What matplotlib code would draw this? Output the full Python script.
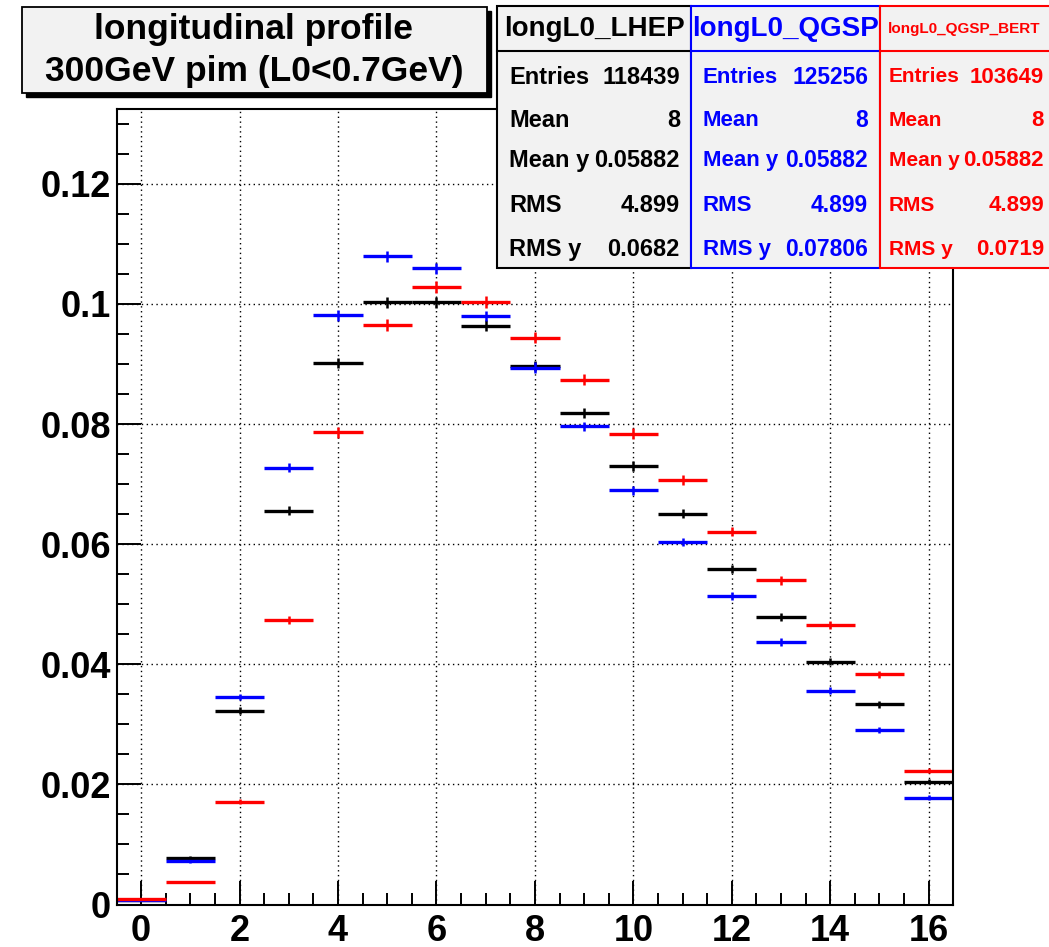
import numpy as np
import matplotlib
matplotlib.use("Agg")
import matplotlib.pyplot as plt
from matplotlib.patches import Rectangle
from matplotlib.ticker import MultipleLocator, FuncFormatter
from matplotlib.lines import Line2D

plt.rcParams['font.family'] = ['Liberation Sans', 'DejaVu Sans']
plt.rcParams['font.weight'] = 'bold'

# longitudinal profile, bins 0..16 (normalised to 1)
layers = list(range(17))
lhep = [0.0008, 0.0078, 0.0323, 0.0656, 0.0902, 0.1003, 0.1003, 0.0964, 0.0897,
        0.0818, 0.0730, 0.0651, 0.0559, 0.0479, 0.0404, 0.0333, 0.0204]
qgsp = [0.0007, 0.0072, 0.0345, 0.0727, 0.0981, 0.1079, 0.1059, 0.0980, 0.0894,
        0.0796, 0.0690, 0.0604, 0.0514, 0.0437, 0.0356, 0.0291, 0.0178]
bert = [0.0009, 0.0037, 0.0171, 0.0473, 0.0786, 0.0965, 0.1028, 0.1003, 0.0944,
        0.0874, 0.0784, 0.0707, 0.0621, 0.0540, 0.0465, 0.0383, 0.0223]

names = ['longL0_LHEP', 'longL0_QGSP', 'longL0_QGSP_BERT']
colors = ['black', '#0000ff', '#ff0000']
entries = [118439, 125256, 103649]
means = ['8', '8', '8']
mean_y = ['0.05882', '0.05882', '0.05882']
rms = ['4.899', '4.899', '4.899']
rms_y = ['0.0682', '0.07806', '0.0719']

W, H = 1049, 947
fig = plt.figure(figsize=(W / 100, H / 100), dpi=100)

def fx(px):
    return px / W

def fy(py):
    return 1 - py / H

ax = fig.add_axes([fx(116.5), fy(904.5), fx(953.3) - fx(116.5), fy(108.7) - fy(904.5)])

for vals, c, n in zip([lhep, qgsp, bert], colors, entries):
    vals = np.array(vals)
    err = np.sqrt(vals / n)  # counting error of a normalised histogram
    ax.errorbar(layers, vals, xerr=0.5, fmt='none', ecolor=c, elinewidth=2.4, capsize=0)
    ax.errorbar(layers, vals, yerr=err, fmt='none', ecolor=c, elinewidth=1.8, capsize=0)

ax.set_xlim(-0.5, 16.5)
ax.set_ylim(0, 0.1325)
ax.xaxis.set_major_locator(MultipleLocator(2))
ax.xaxis.set_minor_locator(MultipleLocator(0.5))
ax.yaxis.set_major_locator(MultipleLocator(0.02))
ax.yaxis.set_minor_locator(MultipleLocator(0.005))
ax.yaxis.set_major_formatter(FuncFormatter(lambda v, p: '%g' % round(v, 4)))
ax.tick_params(which='both', direction='in', top=False, right=False, width=1.4, labelsize=26)
ax.tick_params(which='major', length=17)
ax.tick_params(which='minor', length=8.5)
ax.tick_params(axis='y', pad=4)
ax.tick_params(axis='x', pad=7)
for lab in ax.get_xticklabels() + ax.get_yticklabels():
    lab.set_fontweight('bold')
ax.grid(True, which='major', color='black', ls=(0, (1, 2.5)), lw=1.0)
ax.set_axisbelow(True)
for s in ax.spines.values():
    s.set_linewidth(1.5)

# title box with shadow
fig.patches.append(Rectangle((fx(26), fy(97)), fx(487) - fx(22), fy(7) - fy(93),
                             transform=fig.transFigure, facecolor='black', edgecolor='black', zorder=5))
fig.patches.append(Rectangle((fx(22), fy(93)), fx(487) - fx(22), fy(7) - fy(93),
                             transform=fig.transFigure, facecolor='#f2f2f2', edgecolor='black',
                             lw=1.3, zorder=6))
fig.text(fx(254), fy(30), 'longitudinal profile', ha='center', va='center', fontsize=25.5,
         fontweight='bold', zorder=7)
fig.text(fx(254), fy(72), '300GeV pim (L0<0.7GeV)', ha='center', va='center', fontsize=25.5,
         fontweight='bold', zorder=7)

# statistics boxes
box_left = [497, 691, 880]
box_right = [691, 880, 1060]
label_x = [509, 703, 889]
value_x = [680, 868, 1044]
head_size = [20, 20, 11]
label_size = [17, 16, 15]
value_size = [17, 16.5, 16]
row_y = [75, 118, 158, 203, 247]
row_names = ['Entries', 'Mean', 'Mean y', 'RMS', 'RMS y']
for i in range(3):
    c = colors[i]
    fig.patches.append(Rectangle((fx(box_left[i]), fy(268)), fx(box_right[i]) - fx(box_left[i]),
                                 fy(6) - fy(268), transform=fig.transFigure, facecolor='#f2f2f2',
                                 edgecolor=c, lw=1.5, zorder=5))
    fig.lines.append(Line2D([fx(box_left[i]), fx(box_right[i])], [fy(51), fy(51)],
                            transform=fig.transFigure, color=c, lw=1.5, zorder=6))
    fig.text(fx((box_left[i] + min(box_right[i], 1049)) / 2), fy(29), names[i], ha='center',
             va='center', fontsize=head_size[i], fontweight='bold', color=c, zorder=7)
    row_vals = [str(entries[i]), means[i], mean_y[i], rms[i], rms_y[i]]
    for yy, nm, v in zip(row_y, row_names, row_vals):
        fig.text(fx(label_x[i]), fy(yy), nm, ha='left', va='center_baseline',
                 fontsize=label_size[i], fontweight='bold', color=c, zorder=7)
        fig.text(fx(value_x[i]), fy(yy), v, ha='right', va='center_baseline',
                 fontsize=value_size[i], fontweight='bold', color=c, zorder=7)

fig.savefig('out.png', dpi=100)
